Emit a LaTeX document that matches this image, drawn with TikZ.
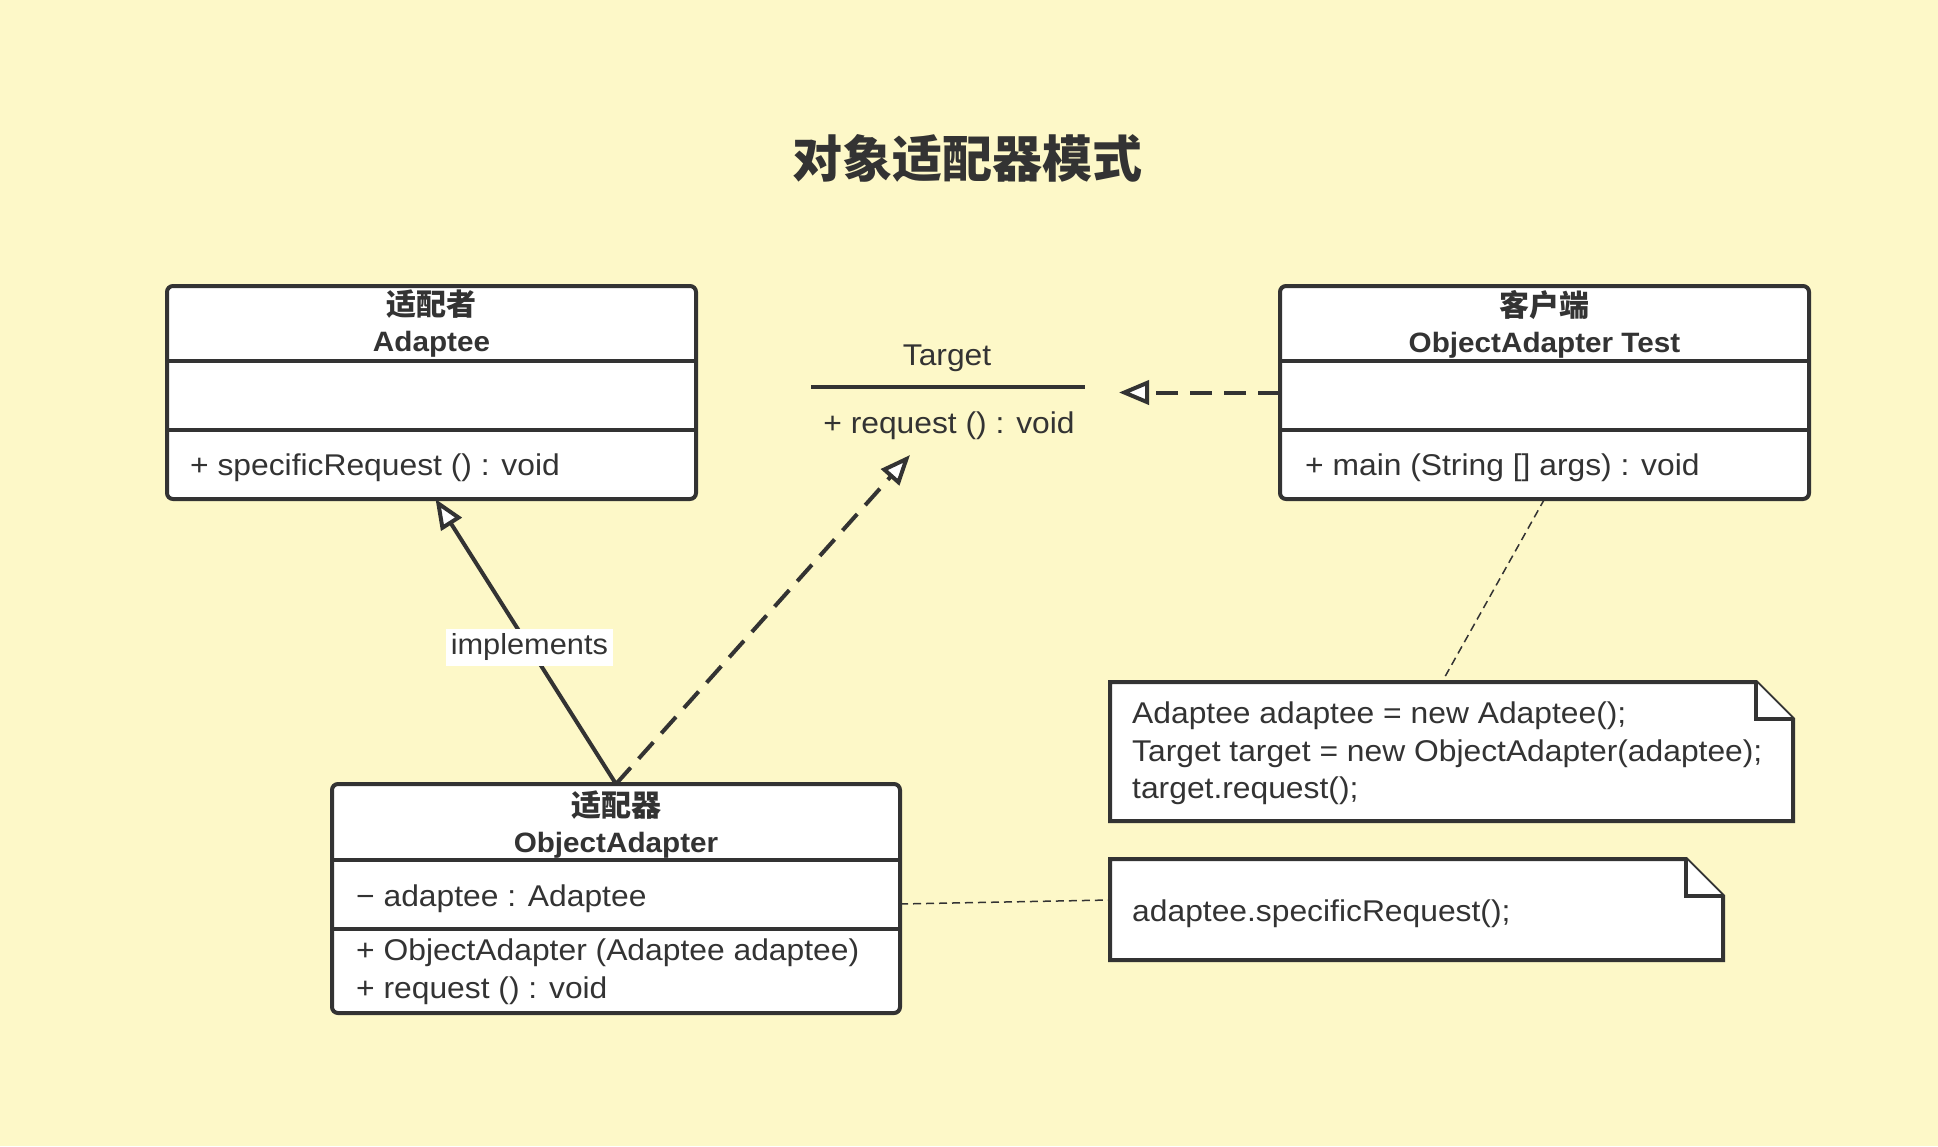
\documentclass[tikz,border=0pt]{standalone}
\usepackage{fontspec}
\setmainfont{Liberation Sans}[FakeStretch=1.06]
\newfontfamily\cjk{Noto Sans CJK SC}
\usetikzlibrary{arrows.meta,positioning}

\definecolor{bgyellow}{HTML}{FDF8C8}
\definecolor{inkgray}{HTML}{333333}

\newcommand{\cjkhead}[1]{{\cjk\fontsize{30}{36}\selectfont #1}}

\tikzset{
  classbox/.style={draw=inkgray, line width=4pt, fill=white, rounded corners=6pt, inner sep=0pt, outer sep=0pt},
  divline/.style={draw=inkgray, line width=4pt},
  headtext/.style={align=center, text=inkgray, font=\fontsize{28}{36}\selectfont\bfseries, inner sep=0pt},
  membertext/.style={anchor=west, align=left, text=inkgray, font=\fontsize{30}{37.5}\selectfont, inner sep=0pt},
  notebox/.style={inner sep=0pt, outer sep=0pt},
  noteline/.style={draw=inkgray, line width=4pt, line join=miter, fill=white},
  realize/.style={draw=inkgray, line width=4pt, dash pattern=on 22pt off 12pt, -{Triangle[fill=white, length=30pt, width=24pt]}},
  generalize/.style={draw=inkgray, line width=4pt, -{Triangle[fill=white, length=30pt, width=24pt]}},
  annotate/.style={draw=inkgray, line width=1.5pt, dash pattern=on 8pt off 5pt},
  labelbox/.style={fill=white, text=inkgray, font=\fontsize{29}{35}\selectfont, inner sep=5pt}
}

\begin{document}
\begin{tikzpicture}[x=1pt,y=1pt]
  \fill[bgyellow] (0,0) rectangle (1938,-1146);
  \useasboundingbox (0,0) rectangle (1938,-1146);

  \node[text=inkgray, font=\cjk\bfseries\fontsize{50}{60}\selectfont] (title) at (967,-158) {对象适配器模式};

  % Adaptee
  \node[classbox, minimum width=529pt, minimum height=213pt] (adaptee) at (431.5,-392.5) {};
  \draw[divline] ([yshift=-75pt]adaptee.north west) -- ([yshift=-75pt]adaptee.north east);
  \draw[divline] ([yshift=-144pt]adaptee.north west) -- ([yshift=-144pt]adaptee.north east);
  \node[headtext] (adapteename) at (431.5,-324) {\cjkhead{适配者}\\Adaptee};
  \node[membertext] (adapteeops) at (190,-467.5) {+ specificRequest () : void};

  % Target
  \node[membertext, anchor=center] (targetname) at (947,-358) {Target};
  \draw[divline] (811,-387) -- (1085,-387);
  \node[membertext, anchor=center] (request) at (949,-425.5) {+ request () : void};
  \coordinate (targetright) at (1119,-392.5);
  \coordinate (targetin) at (910,-455);

  % client
  \node[classbox, minimum width=529pt, minimum height=213pt] (client) at (1544.5,-392.5) {};
  \draw[divline] ([yshift=-75pt]client.north west) -- ([yshift=-75pt]client.north east);
  \draw[divline] ([yshift=-144pt]client.north west) -- ([yshift=-144pt]client.north east);
  \node[headtext] (clientname) at (1544.5,-324) {\cjkhead{客户端}\\ObjectAdapter Test};
  \node[membertext] (clientops) at (1305,-467.5) {+ main (String [] args) : void};

  % ObjectAdapter
  \node[classbox, minimum width=568pt, minimum height=229pt] (oa) at (616,-898.5) {};
  \draw[divline] ([yshift=-76pt]oa.north west) -- ([yshift=-76pt]oa.north east);
  \draw[divline] ([yshift=-145pt]oa.north west) -- ([yshift=-145pt]oa.north east);
  \node[headtext] (oaname) at (616,-825) {\cjkhead{适配器}\\ObjectAdapter};
  \node[membertext] (oaattr) at (356,-898.5) {− adaptee : Adaptee};
  \node[membertext] (oaops) at (356,-971.5) {+ ObjectAdapter (Adaptee adaptee)\\+ request () : void};

  % notes
  \node[notebox, minimum width=683pt, minimum height=139pt] (note1) at (1451.5,-751.5) {};
  \draw[noteline] (note1.north west) -- ([xshift=-37pt]note1.north east) -- ([yshift=-37pt]note1.north east)
    -- (note1.south east) -- (note1.south west) -- cycle;
  \draw[noteline] ([xshift=-37pt]note1.north east) |- ([yshift=-37pt]note1.north east);
  \node[membertext] (note1text) at (1132,-753.5) {Adaptee adaptee = new Adaptee();\\Target target = new ObjectAdapter(adaptee);\\target.request();};

  \node[notebox, minimum width=613pt, minimum height=101pt] (note2) at (1416.5,-909.5) {};
  \draw[noteline] (note2.north west) -- ([xshift=-37pt]note2.north east) -- ([yshift=-37pt]note2.north east)
    -- (note2.south east) -- (note2.south west) -- cycle;
  \draw[noteline] ([xshift=-37pt]note2.north east) |- ([yshift=-37pt]note2.north east);
  \node[membertext] (note2text) at (1132,-913.5) {adaptee.specificRequest();};

  % connectors
  \draw[generalize] (oa.north) -- node[labelbox, pos=0.48] {implements} ([xshift=4pt]adaptee.south);
  \draw[realize] (oa.north) -- (targetin);
  \draw[realize] (client.west) -- (targetright);
  \draw[annotate] (client.south) -- ([xshift=-9.5pt]note1.north);
  \draw[annotate] ([yshift=-5.5pt]oa.east) -- ([yshift=9.5pt]note2.west);
\end{tikzpicture}
\end{document}
